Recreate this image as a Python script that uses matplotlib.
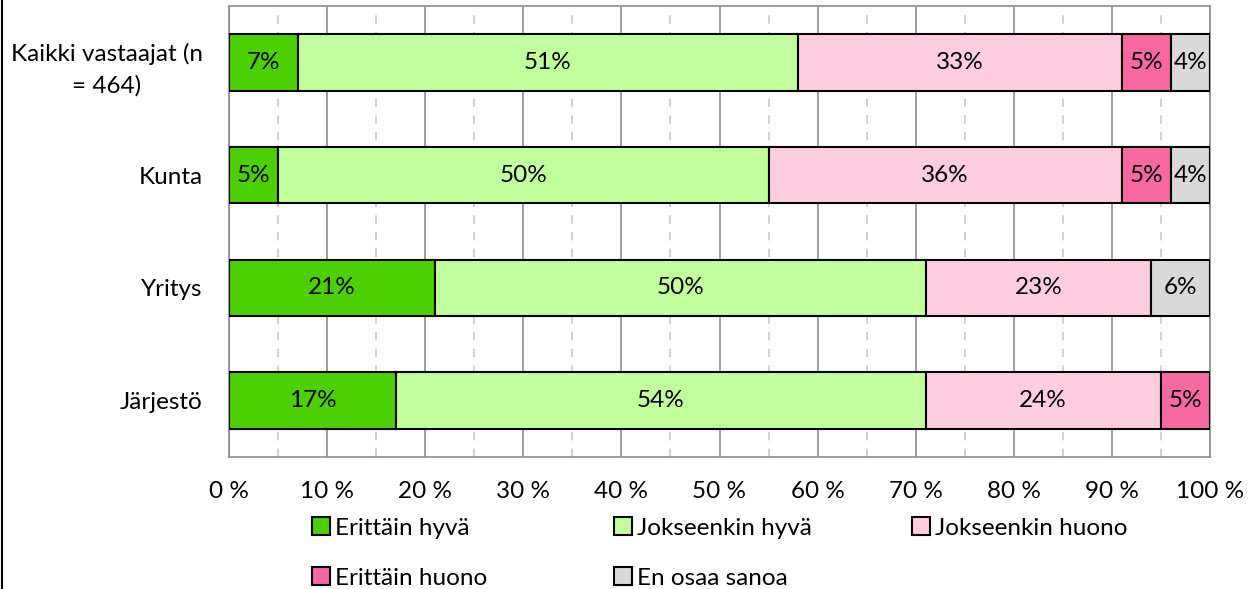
import matplotlib.pyplot as plt
from matplotlib.lines import Line2D
from matplotlib.patches import Patch

# =========================
# DATA
# =========================

groups = ["Kaikki vastaajat (n\n= 464)", "Kunta", "Yritys", "Järjestö"]
categories = ["Erittäin hyvä", "Jokseenkin hyvä", "Jokseenkin huono",
              "Erittäin huono", "En osaa sanoa"]
colors = ["#4cd000", "#c0ff9b", "#ffcce0", "#f869a3", "#d9d9d9"]

erittain_hyva = [7, 5, 21, 17]
jokseenkin_hyva = [51, 50, 50, 54]
jokseenkin_huono = [33, 36, 23, 24]
erittain_huono = [5, 5, 0, 5]
en_osaa = [4, 4, 6, 0]

series = [erittain_hyva, jokseenkin_hyva, jokseenkin_huono, erittain_huono, en_osaa]

xticks = [0, 10, 20, 30, 40, 50, 60, 70, 80, 90, 100]
xticklabels = [f"{t} %" for t in xticks]

# =========================
# PLOT
# =========================

plt.rcParams["font.family"] = ["Lato", "DejaVu Sans"]
FS = 17.5

fig = plt.figure(figsize=(12.53, 5.89), dpi=100)
ax = fig.add_axes([229 / 1253, 132 / 589, 981 / 1253, 451 / 589])

ypos = list(range(len(groups)))
left = [0] * len(groups)
for vals, col in zip(series, colors):
    for i, v in enumerate(vals):
        if v == 0:
            continue
        ax.barh(ypos[i], v, left=left[i], height=0.5, color=col,
                edgecolor="black", linewidth=1.5, zorder=3)
        ax.text(left[i] + v / 2, ypos[i], f"{v}%", ha="center", va="center",
                fontsize=FS, color="black", zorder=4)
        left[i] += v

ax.set_xlim(0, 100)
ax.set_ylim(len(groups) - 0.5, -0.5)
ax.set_yticks(ypos)
ax.set_yticklabels(groups, fontsize=FS, linespacing=1.6, ha="right",
                   multialignment="center")
ax.set_xticks(xticks)
ax.set_xticklabels(xticklabels, fontsize=FS)
ax.set_xticks(list(range(5, 100, 10)), minor=True)

ax.tick_params(axis="both", which="both", length=0)
ax.tick_params(axis="x", pad=17)
ax.tick_params(axis="y", pad=19)

ax.grid(axis="x", which="major", color="#8c8c8c", linewidth=1.2, zorder=0)
ax.grid(axis="x", which="minor", color="#c8c8c8", linewidth=1.2,
        linestyle=(0, (5, 5)), zorder=0)
for s in ax.spines.values():
    s.set_color("#8c8c8c")
    s.set_linewidth(1.2)

# =========================
# LEGEND
# =========================

legend_pos = [(312, 528), (614, 528), (912, 528), (312, 578), (614, 578)]
for cat, col, (px, py) in zip(categories, colors, legend_pos):
    h = Patch(facecolor=col, edgecolor="black", linewidth=1.5)
    fig.legend(handles=[h], labels=[cat], loc="center left",
               bbox_to_anchor=(px / 1253, 1 - py / 589), frameon=False,
               fontsize=FS, handlelength=0.75, handleheight=0.75,
               handletextpad=0.2, borderpad=0, borderaxespad=0)

fig.add_artist(Line2D([2 / 1253, 2 / 1253], [0, 1], color="black", linewidth=1.5))

fig.savefig("out.png", dpi=100)
